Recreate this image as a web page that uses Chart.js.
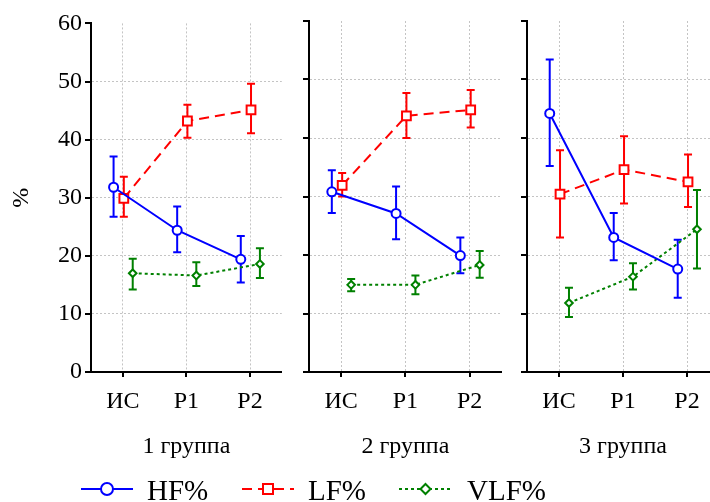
<!DOCTYPE html>
<html>
<head>
<meta charset="utf-8">
<script src="https://cdn.jsdelivr.net/npm/chart.js@4.4.0/dist/chart.umd.min.js"></script>
<style>
body { margin: 0; width: 710px; height: 502px; overflow: hidden; background: #fff; position: relative; }
canvas { position: absolute; top: 0; }
#legend { position: absolute; left: 0; top: 0; }
</style>
</head>
<body>
<canvas id="p1" width="290" height="502" style="left:0px"></canvas>
<canvas id="p2" width="220" height="502" style="left:290px"></canvas>
<canvas id="p3" width="220" height="502" style="left:510px"></canvas>
<svg id="legend" width="710" height="502"></svg>
<script>
const categories = ['ИС', 'Р1', 'Р2'];
const groups = ['1 группа', '2 группа', '3 группа'];
const seriesNames = ['HF%', 'LF%', 'VLF%'];
const yTicks = [0, 10, 20, 30, 40, 50, 60];

// values per group, in order ИС, Р1, Р2
const hfMean = [[31.8, 24.4, 19.4], [30.8, 27.1, 19.9], [44.2, 23.0, 17.6]];
const hfLow = [[26.7, 20.6, 15.4], [27.2, 22.7, 16.9], [35.2, 19.1, 12.7]];
const hfHigh = [[37.1, 28.5, 23.4], [34.5, 31.7, 23.0], [53.4, 27.2, 22.6]];
const lfMean = [[29.9, 43.2, 45.1], [31.9, 43.8, 44.8], [30.4, 34.6, 32.5]];
const lfLow = [[26.7, 40.3, 41.1], [30.0, 40.0, 41.8], [23.0, 28.8, 28.2]];
const lfHigh = [[33.6, 46.0, 49.6], [34.0, 47.7, 48.2], [37.9, 40.3, 37.2]];
const vlfMean = [[17.0, 16.6, 18.6], [14.9, 14.9, 18.3], [11.8, 16.3, 24.4]];
const vlfLow = [[14.2, 14.8, 16.2], [13.8, 13.3, 16.1], [9.4, 14.1, 17.7]];
const vlfHigh = [[19.5, 18.9, 21.3], [15.9, 16.5, 20.7], [14.4, 18.6, 31.1]];

const FONT = 'Liberation Serif';
const styles = [
    { color: '#0000ff', dash: [], point: 'circle', radius: 4.5, shift: -0.145 },
    { color: '#ff0000', dash: [10, 6], point: 'rect', radius: 6.2, shift: 0.016 },
    { color: '#008000', dash: [3, 3], point: 'rectRot', radius: 3.8, shift: 0.156 }
];

// chart area edges for each panel (in canvas px)
const panels = [
    { yWidth: 91, padRight: 7, labels: true },
    { yWidth: 19, padRight: 8, labels: false },
    { yWidth: 17, padRight: 11, labels: false }
];

const errorBars = {
    id: 'errorBars',
    beforeDatasetsDraw(chart) {
        const ctx = chart.ctx;
        const y = chart.scales.y;
        chart.data.datasets.forEach((ds, i) => {
            const meta = chart.getDatasetMeta(i);
            ctx.save();
            ctx.strokeStyle = ds.borderColor;
            ctx.lineWidth = 2;
            ctx.setLineDash([]);
            meta.data.forEach((pt, j) => {
                const y1 = y.getPixelForValue(ds.errLow[j]);
                const y2 = y.getPixelForValue(ds.errHigh[j]);
                ctx.beginPath();
                ctx.moveTo(pt.x, y1);
                ctx.lineTo(pt.x, y2);
                ctx.moveTo(pt.x - 4, y1);
                ctx.lineTo(pt.x + 4, y1);
                ctx.moveTo(pt.x - 4, y2);
                ctx.lineTo(pt.x + 4, y2);
                ctx.stroke();
            });
            ctx.restore();
        });
    }
};

const tickMarks = {
    id: 'tickMarks',
    afterDraw(chart) {
        const ctx = chart.ctx;
        const area = chart.chartArea;
        ctx.save();
        ctx.strokeStyle = '#000';
        ctx.lineWidth = 2;
        ctx.beginPath();
        yTicks.forEach(v => {
            const py = Math.round(chart.scales.y.getPixelForValue(v));
            ctx.moveTo(area.left - 6, py);
            ctx.lineTo(area.left, py);
        });
        categories.forEach((c, k) => {
            const px = Math.round(chart.scales.x.getPixelForValue(k + 1));
            ctx.moveTo(px, area.bottom);
            ctx.lineTo(px, area.bottom + 5);
        });
        ctx.stroke();
        ctx.restore();
    }
};

function makePanel(g) {
    const p = panels[g];
    const means = [hfMean[g], lfMean[g], vlfMean[g]];
    const lows = [hfLow[g], lfLow[g], vlfLow[g]];
    const highs = [hfHigh[g], lfHigh[g], vlfHigh[g]];

    const datasets = seriesNames.map((name, s) => ({
        label: name,
        data: means[s].map((v, k) => ({ x: k + 1 + styles[s].shift, y: v })),
        errLow: lows[s],
        errHigh: highs[s],
        borderColor: styles[s].color,
        backgroundColor: '#fff',
        borderWidth: 2,
        borderDash: styles[s].dash,
        pointStyle: styles[s].point,
        pointRadius: styles[s].radius,
        pointBorderWidth: 2,
        pointBackgroundColor: '#fff',
        tension: 0
    }));

    return new Chart(document.getElementById('p' + (g + 1)), {
        type: 'line',
        data: { datasets: datasets },
        plugins: [errorBars, tickMarks],
        options: {
            responsive: false,
            animation: false,
            layout: { padding: { top: 21, left: 0, right: p.padRight, bottom: 40 } },
            plugins: { legend: { display: false }, tooltip: { enabled: false } },
            scales: {
                x: {
                    type: 'linear',
                    min: 0.5,
                    max: 3.5,
                    afterBuildTicks: scale => {
                        scale.ticks = categories.map((c, k) => ({ value: k + 1 }));
                    },
                    afterFit: scale => { scale.height = 90; },
                    ticks: {
                        autoSkip: false,
                        maxRotation: 0,
                        padding: 15,
                        color: '#000',
                        font: { family: FONT, size: 24 },
                        callback: v => categories[v - 1]
                    },
                    grid: { color: '#c4c4c4', lineWidth: 1, drawTicks: false },
                    border: { display: true, color: '#000', width: 2, dash: [2, 2] },
                    title: {
                        display: true,
                        text: groups[g],
                        color: '#000',
                        font: { family: FONT, size: 24 },
                        padding: { top: 0, bottom: 1 }
                    }
                },
                y: {
                    min: 0,
                    max: 60,
                    afterBuildTicks: scale => {
                        scale.ticks = yTicks.map(v => ({ value: v }));
                    },
                    afterFit: scale => { scale.width = p.yWidth; },
                    ticks: {
                        display: p.labels,
                        padding: 9,
                        color: '#000',
                        font: { family: FONT, size: 24 }
                    },
                    grid: {
                        drawTicks: false,
                        lineWidth: 1,
                        color: c => (c.tick && (c.tick.value === 0 || c.tick.value === 60)) ? 'rgba(0,0,0,0)' : '#c4c4c4'
                    },
                    border: { display: true, color: '#000', width: 2, dash: [2, 2] },
                    title: {
                        display: p.labels,
                        text: '%',
                        color: '#000',
                        font: { family: FONT, size: 24 },
                        padding: { top: 7, bottom: 0 }
                    }
                }
            }
        }
    });
}

groups.forEach((g, i) => makePanel(i));

// legend: line sample, marker and name for each series
const legendItems = [
    { x1: 81, x2: 133, tx: 147 },
    { x1: 242, x2: 294, tx: 308 },
    { x1: 399, x2: 452, tx: 467 }
];
const svg = document.getElementById('legend');
const ly = 489;
let html = '';
seriesNames.forEach((name, s) => {
    const it = legendItems[s];
    const st = styles[s];
    const cx = (it.x1 + it.x2) / 2;
    html += '<line x1="' + it.x1 + '" y1="' + ly + '" x2="' + it.x2 + '" y2="' + ly + '" stroke="' + st.color +
        '" stroke-width="2" stroke-dasharray="' + (st.dash.length ? st.dash.join(',') : 'none') + '"/>';
    if (st.point === 'circle') {
        html += '<circle cx="' + cx + '" cy="' + ly + '" r="6" fill="#fff" stroke="' + st.color + '" stroke-width="2"/>';
    } else if (st.point === 'rect') {
        html += '<rect x="' + (cx - 5) + '" y="' + (ly - 5) + '" width="10" height="10" fill="#fff" stroke="' + st.color + '" stroke-width="2"/>';
    } else {
        html += '<polygon points="' + cx + ',' + (ly - 5) + ' ' + (cx + 5) + ',' + ly + ' ' + cx + ',' + (ly + 5) + ' ' + (cx - 5) + ',' + ly +
            '" fill="#fff" stroke="' + st.color + '" stroke-width="2"/>';
    }
    html += '<text x="' + it.tx + '" y="500" font-family="' + FONT + '" font-size="29" fill="#000">' + name + '</text>';
});
svg.innerHTML = html;
</script>
</body>
</html>
